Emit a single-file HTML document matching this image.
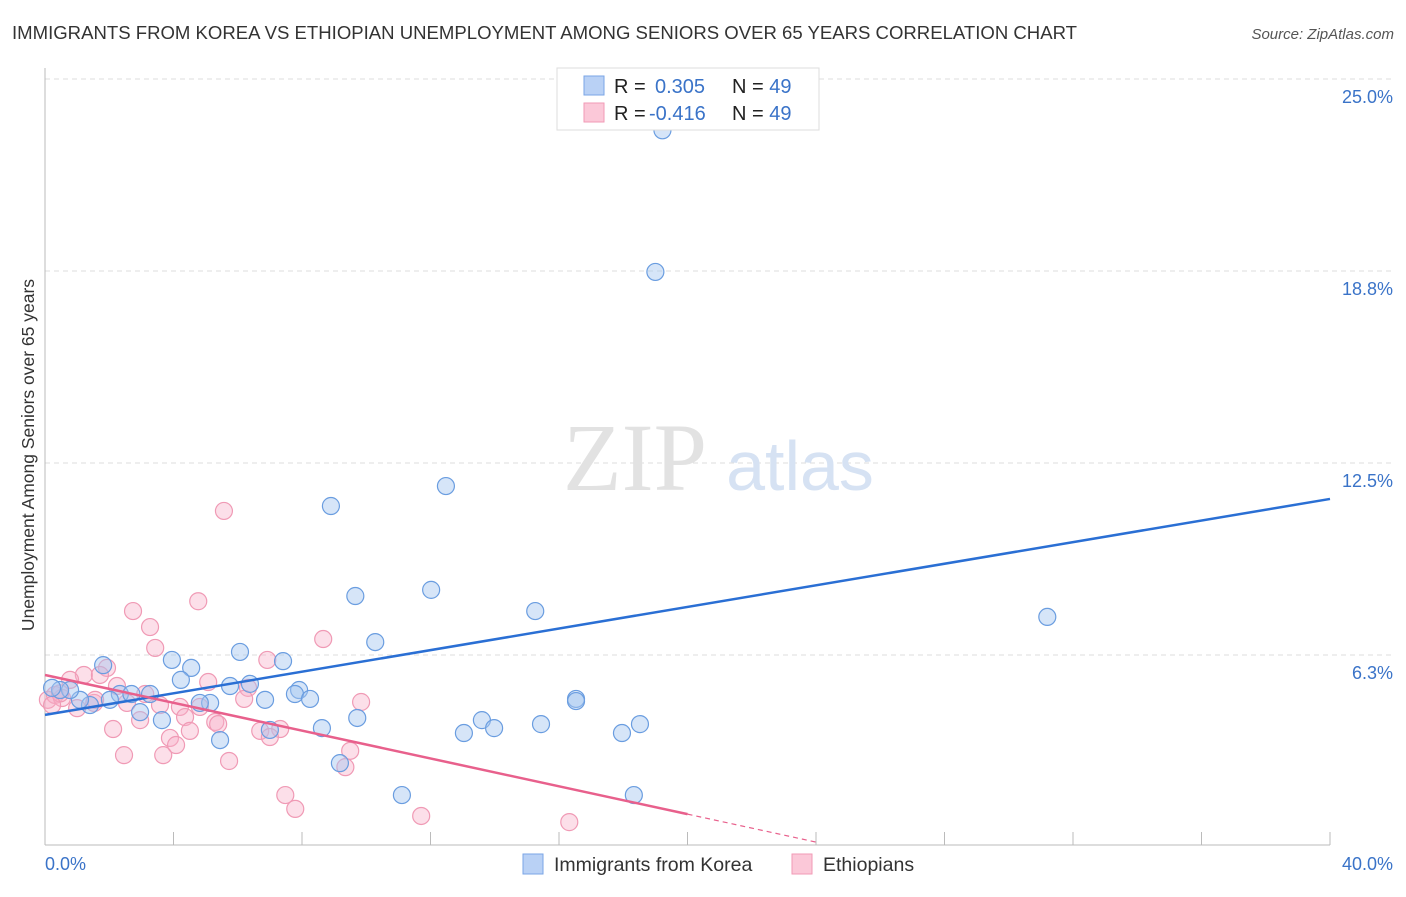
<!DOCTYPE html>
<html><head><meta charset="utf-8"><style>
body{margin:0;background:#fff;font-family:"Liberation Sans",sans-serif;}
</style></head><body>
<svg width="1406" height="892" xmlns="http://www.w3.org/2000/svg">
<text x="12" y="39" font-size="18" fill="#333" textLength="1065" lengthAdjust="spacingAndGlyphs">IMMIGRANTS FROM KOREA VS ETHIOPIAN UNEMPLOYMENT AMONG SENIORS OVER 65 YEARS CORRELATION CHART</text>
<text x="1394" y="39" font-size="15" fill="#555" font-style="italic" text-anchor="end">Source: ZipAtlas.com</text>
<g id="grid"></g>
<text x="635" y="490" font-size="96" font-family="Liberation Serif,serif" fill="#e2e2e2" text-anchor="middle">ZIP</text>
<text x="800" y="490" font-size="70" fill="#d6e2f3" text-anchor="middle">atlas</text>
<g id="axes"></g>
<g id="marks"></g>
<text x="34" y="455" font-size="17.5" fill="#333" text-anchor="middle" transform="rotate(-90 34 455)">Unemployment Among Seniors over 65 years</text>
<text x="45" y="870" font-size="18" fill="#3a73c8">0.0%</text>
<text x="1393" y="870" font-size="18" fill="#3a73c8" text-anchor="end">40.0%</text>
<g>
<rect x="557" y="68" width="262" height="62" fill="#fff" stroke="#ddd"/>
<rect x="584" y="76" width="20" height="19" fill="#b9d1f5" stroke="#7aa5e6"/>
<rect x="584" y="103" width="20" height="19" fill="#fbc8d8" stroke="#f19ab6"/>
<text x="614" y="93" font-size="20" fill="#222">R = <tspan x="655" fill="#3a73c8">0.305</tspan><tspan x="732" fill="#222">N = </tspan><tspan fill="#3a73c8">49</tspan></text>
<text x="614" y="120" font-size="20" fill="#222">R = <tspan x="649" fill="#3a73c8">-0.416</tspan><tspan x="732" fill="#222">N = </tspan><tspan fill="#3a73c8">49</tspan></text>
</g>
<g>
<rect x="523" y="854" width="20" height="20" fill="#b9d1f5" stroke="#7aa5e6"/>
<text x="554" y="871" font-size="19.5" fill="#333">Immigrants from Korea</text>
<rect x="792" y="854" width="20" height="20" fill="#fbc8d8" stroke="#f19ab6"/>
<text x="823" y="871" font-size="19.5" fill="#333">Ethiopians</text>
</g>
</svg>
<script>
const yTicks=[25.0,18.75,12.5,6.25];
const yTickLabels=["25.0%","18.8%","12.5%","6.3%"];
const xTicks=[0,4,8,12,16,20,24,28,32,36,40];
const koreaX=[19.22,19.0,12.48,8.9,12.02,9.66,15.26,31.2,10.28,6.07,3.95,7.41,1.81,4.55,4.23,6.38,5.76,7.91,7.78,2.33,3.27,2.69,8.25,6.85,16.53,16.53,5.14,4.82,2.02,1.4,1.09,0.78,0.47,0.22,2.96,3.64,9.72,13.6,13.98,15.44,18.52,8.62,7.0,13.04,17.96,5.45,9.18,11.11,18.33];
const koreaY=[23.33,18.72,11.75,11.1,8.37,8.17,7.68,7.49,6.67,6.35,6.09,6.05,5.92,5.83,5.44,5.31,5.24,5.11,4.98,4.98,4.98,4.98,4.82,4.79,4.82,4.75,4.69,4.69,4.79,4.62,4.79,5.11,5.11,5.18,4.39,4.13,4.2,4.13,3.87,4.0,4.0,3.87,3.81,3.71,3.71,3.48,2.73,1.69,1.69];
const ethX=[5.57,4.77,2.74,3.27,8.66,3.43,6.92,1.93,1.21,0.78,1.71,5.08,2.24,6.32,3.12,6.2,9.84,0.09,0.31,0.53,1.53,1.0,2.55,3.58,4.2,4.82,4.36,2.96,5.3,5.39,4.51,2.12,6.7,7.32,7.0,3.89,4.08,9.5,2.46,3.68,5.73,9.35,7.48,7.79,11.71,16.32,0.47,0.22,1.56];
const ethY=[10.94,8.0,7.68,7.16,6.77,6.48,6.09,5.83,5.6,5.44,5.6,5.37,5.24,5.18,4.98,4.82,4.72,4.79,4.95,4.85,4.69,4.52,4.69,4.62,4.56,4.56,4.23,4.13,4.07,4.0,3.78,3.84,3.78,3.84,3.58,3.55,3.32,3.13,2.99,2.99,2.8,2.6,1.69,1.24,1.01,0.81,5.0,4.62,4.79];
const koreaTrend=[4.30,11.33];
const ethTrend=[5.6,1.07,0.16];
const ethTrendX=[0,20,24];
const NS="http://www.w3.org/2000/svg";
const sx=v=>45+v/40*1285, sy=v=>847-v*30.72;
function mk(t,a,p){const e=document.createElementNS(NS,t);for(const k in a)e.setAttribute(k,a[k]);p.appendChild(e);return e;}
const grid=document.getElementById('grid'),axes=document.getElementById('axes'),marks=document.getElementById('marks');
yTicks.forEach((v,i)=>{
 const l=mk('line',{x1:45,x2:1395,y1:sy(v),y2:sy(v),stroke:'#ddd','stroke-dasharray':'5,4'},grid);
 
 
 const t=mk('text',{x:1393,y:sy(v)+24,'font-size':18,fill:'#3a73c8','text-anchor':'end'},grid);
 t.textContent=yTickLabels[i];
 
 
});
let a=mk('line',{x1:45,x2:45,y1:68,y2:845,stroke:'#bbb'},axes);


a=mk('line',{x1:45,x2:1330,y1:845,y2:845,stroke:'#bbb'},axes);


xTicks.forEach(v=>{const t=mk('line',{x1:sx(v),x2:sx(v),y1:832,y2:845,stroke:'#bbb'},axes);
 
 });
function pts(X,Y,fill,stroke,name){X.forEach((x,i)=>{const c=mk('circle',{cx:sx(x),cy:sy(Y[i]),r:8.5,fill:fill,stroke:stroke,'stroke-width':1.2},marks);
 
 });}
pts(ethX,ethY,'rgba(247,175,200,0.4)','#f09ab5','point-ethiopians');
pts(koreaX,koreaY,'rgba(165,198,240,0.45)','#6a9de0','point-korea');
let ln=mk('line',{x1:sx(0),y1:sy(koreaTrend[0]),x2:sx(40),y2:sy(koreaTrend[1]),stroke:'#2a6fd4','stroke-width':2.5},marks);


ln=mk('line',{x1:sx(ethTrendX[0]),y1:sy(ethTrend[0]),x2:sx(ethTrendX[1]),y2:sy(ethTrend[1]),stroke:'#e8608c','stroke-width':2.5},marks);


ln=mk('line',{x1:sx(ethTrendX[1]),y1:sy(ethTrend[1]),x2:sx(ethTrendX[2]),y2:sy(ethTrend[2]),stroke:'#e8608c','stroke-width':1.2,'stroke-dasharray':'5,4'},marks);


</script>
</body></html>
